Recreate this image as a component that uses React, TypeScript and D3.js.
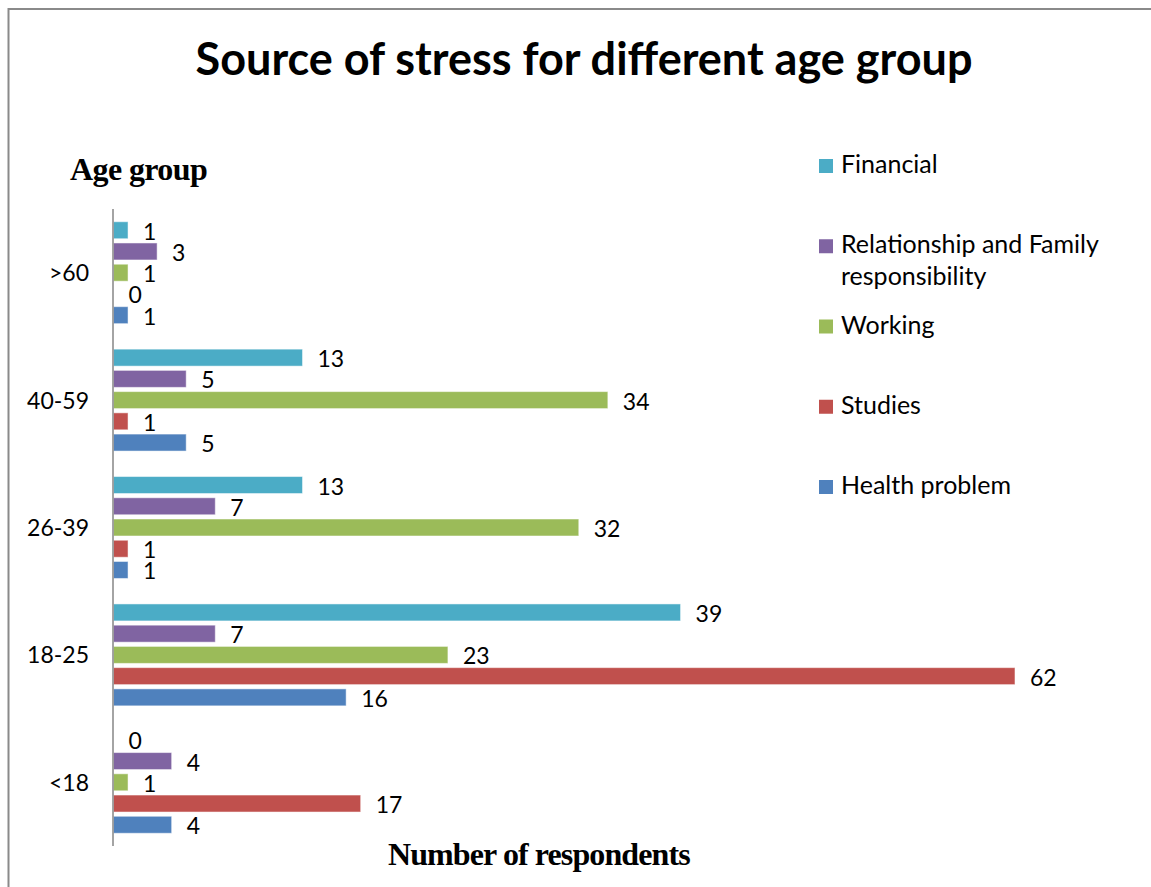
import React from "react";
import * as d3 from "d3";

const ageGroups = [">60", "40-59", "26-39", "18-25", "<18"];
const seriesNames = [
  "Financial",
  "Relationship and Family responsibility",
  "Working",
  "Studies",
  "Health problem",
];
const financial = [1, 13, 13, 39, 0];
const relationship = [3, 5, 7, 7, 4];
const working = [1, 34, 32, 23, 1];
const studies = [0, 1, 1, 62, 17];
const health = [1, 5, 1, 16, 4];
const seriesColors = ["#4BACC6", "#8064A2", "#9BBB59", "#C0504D", "#4F81BD"];
const legendLines = [["Financial"], ["Relationship and Family", "responsibility"], ["Working"], ["Studies"], ["Health problem"]];

const W = 1151;
const H = 887;
const sans = "Lato, 'Open Sans', sans-serif";
const serif = "'Liberation Serif', 'Times New Roman', serif";

export default function App() {
  const values = [financial, relationship, working, studies, health];
  const x = d3.scaleLinear().domain([0, 70]).range([113.5, 113.5 + 70 * 14.54]);
  const y0 = d3.scaleBand<string>().domain(ageGroups).range([209, 846]).paddingInner(0).paddingOuter(0);
  const y1 = d3
    .scaleBand<number>()
    .domain(d3.range(seriesNames.length))
    .range([0, y0.bandwidth()])
    .paddingInner(0.2)
    .paddingOuter(0.6);

  const legendY = d3.scalePoint<number>().domain(d3.range(5)).range([173, 494]);

  return (
    <div style={{ position: "absolute", left: 0, top: 0 }}>
      <svg width={W} height={H} style={{ display: "block", background: "#fff" }}>
        <path d={`M8.5,${H} V9 H${W}`} fill="none" stroke="#8a8a8a" strokeWidth={2} />
        <text x={584} y={75} textAnchor="middle" fontFamily={sans} fontWeight={700} fontSize={45} fill="#000">
          Source of stress for different age group
        </text>
        <text x={70} y={180} fontFamily={serif} fontWeight={700} fontSize={32} letterSpacing={-0.6} fill="#000">
          Age group
        </text>
        <text x={388} y={865} fontFamily={serif} fontWeight={700} fontSize={32} letterSpacing={-0.9} fill="#000">
          Number of respondents
        </text>
        {ageGroups.map((g, gi) => (
          <g key={g} transform={`translate(0,${y0(g)})`}>
            <text
              x={89}
              y={y0.bandwidth() / 2 + 8.5}
              textAnchor="end"
              fontFamily={sans}
              fontSize={23}
              fill="#000"
            >
              {g}
            </text>
            {values.map((vals, si) => {
              const v = vals[gi];
              const by = y1(si)!;
              const bh = y1.bandwidth();
              return (
                <g key={si}>
                  {v > 0 && (
                    <rect
                      x={x(0)}
                      y={by}
                      width={x(v) - x(0)}
                      height={bh}
                      fill={seriesColors[si]}
                      stroke="#ffffff"
                      strokeOpacity={0.5}
                      strokeWidth={1}
                    />
                  )}
                  <text
                    x={x(v) + 15}
                    y={by + bh / 2 + 9.5}
                    fontFamily={sans}
                    fontSize={23}
                    fill="#000"
                  >
                    {v}
                  </text>
                </g>
              );
            })}
          </g>
        ))}
        <line x1={113} x2={113} y1={209} y2={846} stroke="#868686" strokeWidth={1.5} />
        {seriesNames.map((name, i) => {
          const base = legendY(i)!;
          return (
            <g key={name}>
              <rect x={819} y={base - 14} width={14} height={14} fill={seriesColors[i]} />
              {legendLines[i].map((line, li) => (
                <text key={li} x={841} y={base + li * 32} fontFamily={sans} fontSize={25} fill="#000">
                  {line}
                </text>
              ))}
            </g>
          );
        })}
      </svg>
    </div>
  );
}
